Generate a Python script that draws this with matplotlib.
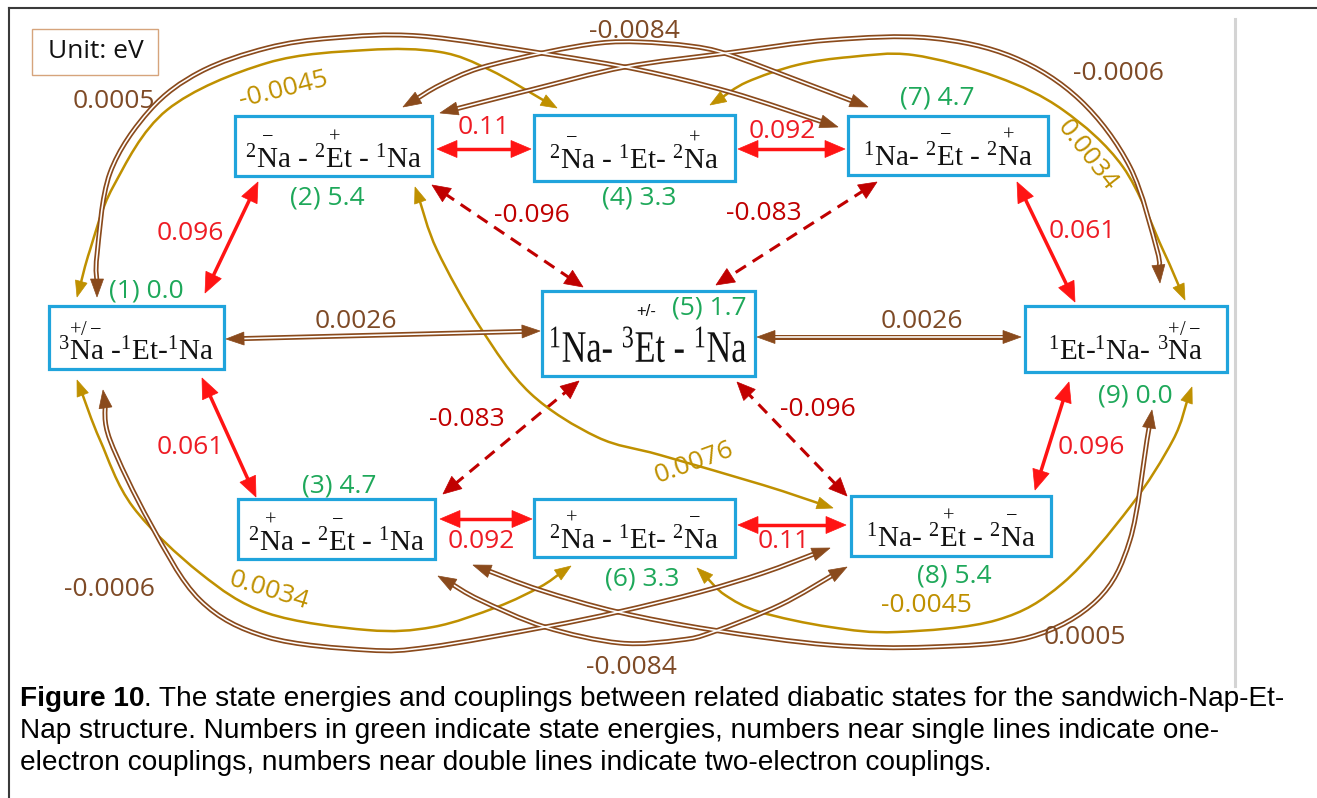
import numpy as np
import matplotlib.pyplot as plt
from matplotlib.path import Path
from matplotlib.patches import PathPatch, Polygon, Rectangle
from matplotlib.textpath import TextPath
from matplotlib.font_manager import FontProperties
from matplotlib.transforms import Affine2D

plt.rcParams['font.family'] = ['Open Sans', 'DejaVu Sans']
plt.rcParams['mathtext.fontset'] = 'custom'
plt.rcParams['mathtext.rm'] = 'Liberation Serif'
plt.rcParams['mathtext.it'] = 'Liberation Serif:italic'
plt.rcParams['mathtext.bf'] = 'Liberation Serif:bold'

# ---- data ----
state_ids = [1, 2, 3, 4, 5, 6, 7, 8, 9]
state_energy = [0.0, 5.4, 4.7, 3.3, 1.7, 3.3, 4.7, 5.4, 0.0]
state_labels = [
    r"$^{3}\overset{+/-}{\mathrm{Na}}$ -$^{1}$Et-$^{1}$Na",
    r"$^{2}\overset{-}{\mathrm{N}}\mathrm{a}$ - $^{2}\overset{+}{\mathrm{E}}\mathrm{t}$ - $^{1}$Na",
    r"$^{2}\overset{+}{\mathrm{N}}\mathrm{a}$ - $^{2}\overset{-}{\mathrm{E}}\mathrm{t}$ - $^{1}$Na",
    r"$^{2}\overset{-}{\mathrm{N}}\mathrm{a}$ - $^{1}$Et- $^{2}\overset{+}{\mathrm{N}}\mathrm{a}$",
    r"$^{1}$Na- $^{3}$Et - $^{1}$Na",
    r"$^{2}\overset{+}{\mathrm{N}}\mathrm{a}$ - $^{1}$Et- $^{2}\overset{-}{\mathrm{N}}\mathrm{a}$",
    r"$^{1}$Na- $^{2}\overset{-}{\mathrm{E}}\mathrm{t}$ - $^{2}\overset{+}{\mathrm{N}}\mathrm{a}$",
    r"$^{1}$Na- $^{2}\overset{+}{\mathrm{E}}\mathrm{t}$ - $^{2}\overset{-}{\mathrm{N}}\mathrm{a}$",
    r"$^{1}$Et-$^{1}$Na- $^{3}\overset{+/-}{\mathrm{Na}}$",
]

# one-electron couplings (solid single lines)
one_e_pairs = [(2, 4), (4, 7), (3, 6), (6, 8), (1, 2), (1, 3), (7, 9), (8, 9)]
one_e_values = [0.11, 0.092, 0.092, 0.11, 0.096, 0.061, 0.061, 0.096]
# one-electron couplings to the central state (dashed)
center_pairs = [(2, 5), (7, 5), (3, 5), (8, 5)]
center_values = [-0.096, -0.083, -0.083, -0.096]
# two-electron couplings (double lines)
two_e_pairs = [(1, 5), (5, 9), (1, 7), (2, 7), (9, 2), (1, 8), (3, 8), (9, 3)]
two_e_values = [0.0026, 0.0026, 0.0005, -0.0084, -0.0006, -0.0006, -0.0084, 0.0005]
# long-range one-electron couplings (gold curves)
long_pairs = [(1, 4), (9, 4), (1, 6), (9, 6), (2, 8)]
long_values = [-0.0045, 0.0034, 0.0034, -0.0045, 0.0076]

caption_bold = 'Figure 10'
caption_lines = [
    '. The state energies and couplings between related diabatic states for the sandwich-Nap-Et-',
    'Nap structure. Numbers in green indicate state energies, numbers near single lines indicate one-',
    'electron couplings, numbers near double lines indicate two-electron couplings.',
]

# ---- layout (pixels) ----
boxes = {1: (49, 306, 224, 369), 2: (235, 116, 432, 176), 3: (238, 499, 435, 559),
         4: (534, 115, 735, 181), 5: (542, 291, 755, 376), 6: (534, 499, 735, 557),
         7: (848, 116, 1048, 175), 8: (851, 496, 1051, 556), 9: (1025, 306, 1227, 372)}
baselines = {1: 360, 2: 167, 3: 550, 4: 168, 5: 362, 6: 548, 7: 165, 8: 546, 9: 360}
energy_pos = {1: (146, 291), 2: (327, 198), 3: (339, 486), 4: (639, 198), 5: (709, 308),
              6: (642, 579), 7: (937, 98), 8: (954, 576), 9: (1135, 396)}

routes = {
    (2, 4): [(437, 149), (531, 149)],
    (4, 7): [(738, 149), (845, 149)],
    (3, 6): [(440, 519), (532, 519)],
    (6, 8): [(738, 525), (846, 525)],
    (1, 2): [(205, 293), (258, 182)],
    (1, 3): [(202, 378), (256, 497)],
    (7, 9): [(1017, 182), (1075, 302)],
    (8, 9): [(1035, 490), (1069, 382)],
    (2, 5): [(432, 185), (583, 287)],
    (7, 5): [(877, 182), (716, 285)],
    (3, 5): [(443, 494), (579, 381)],
    (8, 5): [(847, 496), (737, 382)],
    (1, 5): [(226, 339), (540, 331)],
    (5, 9): [(757, 337), (1021, 337)],
    (1, 7): [(97, 297), (97, 255), (110, 173), (150, 110), (200, 72), (267, 48), (333, 38),
             (420, 36), (547, 54), (640, 70), (730, 92), (838, 127)],
    (2, 7): [(403, 107), (440, 85), (480, 68), (547, 52), (600, 43), (640, 42), (690, 46),
             (727, 54), (797, 80), (868, 107)],
    (9, 2): [(1160, 283), (1157, 250), (1130, 167), (1080, 100), (1013, 57), (930, 38),
             (830, 40), (727, 53), (625, 67), (530, 90), (440, 113)],
    (1, 8): [(103, 390), (110, 440), (150, 523), (200, 600), (267, 637), (367, 650),
             (430, 647), (545, 627), (618, 612), (700, 592), (763, 573), (830, 548)],
    (3, 8): [(438, 576), (480, 600), (545, 627), (620, 643), (680, 640), (713, 632),
             (780, 605), (847, 567)],
    (9, 3): [(1152, 410), (1147, 440), (1130, 540), (1097, 600), (1030, 637), (930, 647),
             (830, 645), (713, 630), (618, 612), (540, 590), (473, 565)],
    (1, 4): [(77, 297), (90, 250), (113, 187), (167, 110), (267, 63), (367, 50), (440, 52),
             (490, 70), (557, 108)],
    (9, 4): [(1185, 300), (1163, 250), (1123, 167), (1063, 110), (997, 77), (913, 55),
             (850, 57), (797, 65), (747, 82), (710, 105)],
    (1, 6): [(77, 380), (100, 440), (133, 507), (200, 573), (267, 613), (367, 630),
             (433, 627), (497, 607), (540, 587), (571, 566)],
    (9, 6): [(1192, 387), (1173, 440), (1130, 507), (1063, 583), (997, 620), (897, 632),
             (830, 627), (760, 612), (725, 595), (697, 568)],
    (2, 8): [(415, 187), (437, 250), (480, 327), (530, 393), (597, 437), (660, 455),
             (763, 485), (833, 508)],
}
label_pos = {
    (2, 4): (484, 127, 0), (4, 7): (782, 131, 0), (3, 6): (481, 542, 0), (6, 8): (784, 542, 0),
    (1, 2): (190, 233, 0), (1, 3): (190, 447, 0), (7, 9): (1082, 231, 0), (8, 9): (1091, 448, 0),
    (2, 5): (532, 215, 0), (7, 5): (764, 213, 0), (3, 5): (467, 420, 0), (8, 5): (818, 409, 0),
    (1, 5): (356, 321, 0), (5, 9): (922, 321, 0), (1, 7): (114, 101, 0), (2, 7): (634, 31, 0),
    (9, 2): (1118, 73, 0), (1, 8): (109, 590, 0), (3, 8): (631, 667, 0), (9, 3): (1085, 637, 0),
    (1, 4): (284, 90, 14), (9, 4): (1087, 155, -52), (1, 6): (269, 591, -17),
    (9, 6): (926, 606, 0), (2, 8): (694, 463, 20),
}

RED, DARKRED, BROWN, GOLD, GREEN = '#FF1414', '#C00000', '#8A4A1C', '#BF9000', '#1EA85A'
BROWN_TXT, RED_TXT = '#7E4A26', '#EE1C24'
BOXC = '#20A4DC'
NUM_FS = 19


def smooth_path(pts):
    pts = np.asarray(pts, float)
    if len(pts) == 2:
        return Path(pts, [Path.MOVETO, Path.LINETO])
    ext = np.vstack([pts[0], pts, pts[-1]])
    verts, codes = [pts[0]], [Path.MOVETO]
    for i in range(1, len(ext) - 2):
        p0, p1, p2, p3 = ext[i - 1], ext[i], ext[i + 1], ext[i + 2]
        verts += [p1 + (p2 - p0) / 6, p2 - (p3 - p1) / 6, p2]
        codes += [Path.CURVE4] * 3
    return Path(verts, codes)


def draw_edge(ax, pts, color, lw, hl, hw, ls='-', double=False):
    pts = np.array(pts, float)
    d0 = pts[0] - pts[1]
    d0 /= np.hypot(*d0)
    d1 = pts[-1] - pts[-2]
    d1 /= np.hypot(*d1)
    body = pts.copy()
    body[0] = pts[0] - d0 * hl * 0.8
    body[-1] = pts[-1] - d1 * hl * 0.8
    path = smooth_path(body)
    ax.add_patch(PathPatch(path, fill=False, ec=color, lw=lw, ls=ls, capstyle='butt', zorder=2))
    if double:
        ax.add_patch(PathPatch(path, fill=False, ec='white', lw=lw * 0.32, zorder=2.1))
    for tip, d in ((pts[0], d0), (pts[-1], d1)):
        n = np.array([-d[1], d[0]])
        base = tip - d * hl
        ax.add_patch(Polygon([tip, base + n * hw / 2, base - n * hw / 2], closed=True,
                             fc=color, ec=color, lw=0.5, zorder=2.2))


def draw_label(ax, key, value, color):
    x, y, rot = label_pos[key]
    ax.text(x, y, str(value), color=color, fontsize=NUM_FS, ha='center', va='center',
            rotation=rot, rotation_mode='anchor', zorder=4)


fig = plt.figure(figsize=(13.17, 7.98), dpi=100)
ax = fig.add_axes([0, 0, 1, 1])
ax.set_xlim(0, 1317)
ax.set_ylim(798, 0)
ax.axis('off')

# frame
ax.plot([9, 1317], [8, 8], color='#3a3a3a', lw=1.5, zorder=5)
ax.plot([9, 9], [8, 798], color='#3a3a3a', lw=1.5, zorder=5)
ax.plot([1235, 1235], [19, 686], color='#d4d4d4', lw=2.2, zorder=0)

# unit box
ax.add_patch(Rectangle((32, 29), 126, 46, fill=False, ec='#D6A47C', lw=1.0))
ax.text(96, 52, 'Unit: eV', fontsize=19, ha='center', va='center', color='#111111')

# state boxes
serif = FontProperties(family='Liberation Serif')
for sid, lab, en in zip(state_ids, state_labels, state_energy):
    x0, y0, x1, y1 = boxes[sid]
    ax.add_patch(Rectangle((x0, y0), x1 - x0, y1 - y0, fc='white', ec=BOXC, lw=2.3, zorder=1))
    cx = (x0 + x1) / 2
    if sid == 5:
        # central state: larger, slightly condensed lettering
        tp = TextPath((0, 0), lab, size=45, prop=serif)
        ext = tp.get_extents()
        sx = 195 / ext.width
        tr = Affine2D().translate(-(ext.x0 + ext.width / 2), 0).scale(sx, -1).translate(cx, baselines[sid])
        ax.add_patch(PathPatch(tr.transform_path(tp), fc='#111111', ec='none', zorder=3))
    else:
        ax.text(cx, baselines[sid], lab, fontsize=21, ha='center', va='baseline',
                family='Liberation Serif', color='#111111', zorder=3)
    ex, ey = energy_pos[sid]
    ax.text(ex, ey, f'({sid}) {en:.1f}', color=GREEN, fontsize=NUM_FS, ha='center', va='center', zorder=4)
ax.text(646, 311, '+/-', fontsize=12, ha='center', va='center', color='#111111',
        family='Liberation Sans', zorder=4)

for key, val in zip(one_e_pairs, one_e_values):
    draw_edge(ax, routes[key], RED, 2.5, 20, 17)
    draw_label(ax, key, val, RED_TXT)
for key, val in zip(center_pairs, center_values):
    draw_edge(ax, routes[key], DARKRED, 2.2, 18, 16, ls=(0, (4, 2.6)))
    draw_label(ax, key, val, DARKRED)
for key, val in zip(long_pairs, long_values):
    draw_edge(ax, routes[key], GOLD, 1.8, 16, 12)
    draw_label(ax, key, val, GOLD)
for key, val in zip(two_e_pairs, two_e_values):
    draw_edge(ax, routes[key], BROWN, 3.6, 18, 13, double=True)
    draw_label(ax, key, val, BROWN_TXT)

# caption
cap_fs = 20.2
renderer = fig.canvas.get_renderer()
t = ax.text(20, 706, caption_bold, fontsize=cap_fs, fontweight='bold', family='Liberation Sans',
            va='baseline', ha='left')
bb = t.get_window_extent(renderer)
x_after = ax.transData.inverted().transform((bb.x1, bb.y0))[0]
ax.text(x_after, 706, caption_lines[0], fontsize=cap_fs, family='Liberation Sans',
        va='baseline', ha='left')
for i, line in enumerate(caption_lines[1:], start=1):
    ax.text(20, 706 + 32 * i, line, fontsize=cap_fs, family='Liberation Sans',
            va='baseline', ha='left')

fig.savefig('out.png', dpi=100)
